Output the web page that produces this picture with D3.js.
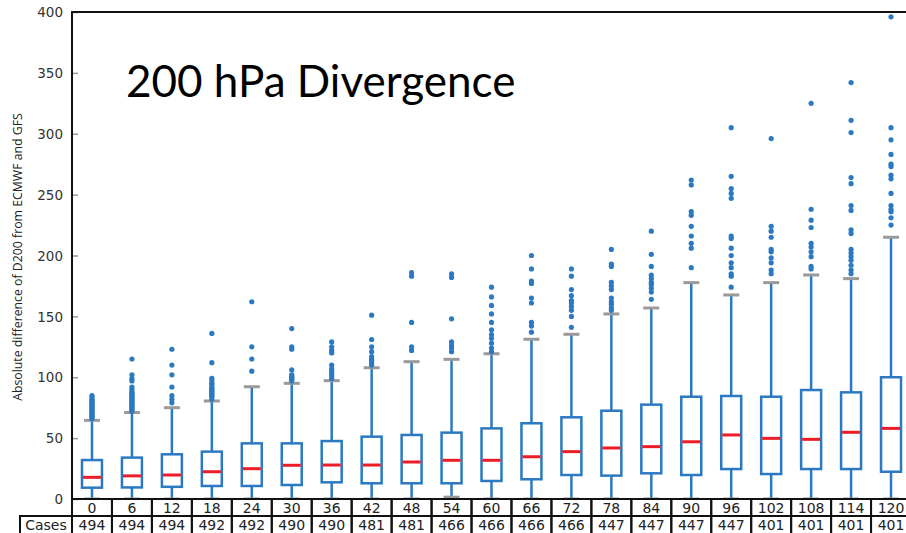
<!DOCTYPE html>
<html>
<head>
<meta charset="utf-8">
<script src="https://cdn.jsdelivr.net/npm/d3@7/dist/d3.min.js"></script>
<style>
  body { margin: 0; background: #fff; }
  svg { display: block; }
  .tick-label { font-family: "DejaVu Sans", sans-serif; font-size: 13.5px; fill: #333; }
  .cell-text { font-family: "DejaVu Sans", sans-serif; font-size: 14px; fill: #222; }
</style>
</head>
<body>
<svg id="chart" width="906" height="533"></svg>
<script>
"use strict";

// forecast lead time (hours) and number of cases
let hours = [0, 6, 12, 18, 24, 30, 36, 42, 48, 54, 60, 66, 72, 78, 84, 90, 96, 102, 108, 114, 120];
let cases = [494, 494, 494, 492, 492, 490, 490, 481, 481, 466, 466, 466, 466, 447, 447, 447, 447, 401, 401, 401, 401];

let q1 = [9.3, 9.5, 10, 10.7, 10.7, 11.5, 13.7, 12.9, 12.9, 12.9, 14.8, 16.2, 19.7, 19.2, 21.1, 19.7, 24.6, 20.5, 24.6, 24.6, 22.4];
let medians = [17.8, 19, 19.7, 22.4, 24.9, 27.7, 27.9, 27.9, 30.4, 31.8, 31.8, 34.7, 38.9, 41.9, 43, 47, 52.6, 49.8, 49, 54.8, 58];
let q3 = [32, 34, 36.7, 38.9, 45.7, 45.7, 47.6, 51.2, 52.6, 54.5, 58, 62.2, 67.1, 72.5, 77.5, 84, 84.6, 84, 89.5, 87.6, 100];
let whiskLow = [0, 0, 0, 0, 0, 0, 0, 0, 0, 1.5, 0, 0, 0, 0, 0, 0, 0, 0, 0, 0, 0];
let whiskHigh = [64.6, 71, 75, 80.5, 92.2, 95, 97.2, 107.8, 112.8, 114.7, 119.3, 131.2, 135.3, 152, 156.9, 177.7, 167.6, 177.7, 184, 181, 215];

let outliers = [
  [66, 67, 68, 69, 70, 71, 72, 73, 74, 75, 76, 77, 78, 79, 80, 81, 82, 84, 85],
  [72, 73, 74, 75, 76, 77, 78, 79, 80, 81, 82, 83, 84, 85, 86, 87, 88, 90, 92, 97, 99, 102, 115],
  [79, 82, 85, 92, 102, 110, 123],
  [82, 84, 85, 86, 87, 88, 89, 90, 91, 92, 94, 95, 97, 99, 112, 136],
  [105, 115, 125, 162],
  [97, 98, 99, 100, 101, 102, 106, 123, 125, 140],
  [99, 101, 103, 105, 107, 110, 120, 122, 125, 129],
  [110, 112, 114, 115, 117, 121, 125, 131, 151],
  [122, 125, 145, 183, 186],
  [121, 124, 126, 129, 148, 182, 185],
  [121, 124, 128, 132, 135, 139, 145, 152, 159, 166, 174],
  [137, 142, 145, 161, 165, 177, 179, 189, 200],
  [141, 150, 155, 158, 161, 163, 167, 172, 183, 189],
  [155, 157, 160, 162, 165, 172, 175, 178, 191, 193, 205],
  [164, 170, 173, 176, 178, 181, 184, 191, 201, 220],
  [190, 206, 210, 216, 224, 233, 236, 258, 262],
  [174, 183, 185, 190, 194, 200, 206, 214, 216, 247, 251, 255, 265, 305],
  [185, 188, 194, 198, 203, 205, 215, 220, 224, 296],
  [189, 191, 199, 203, 207, 210, 223, 229, 238, 325],
  [185, 188, 192, 196, 199, 202, 205, 218, 221, 237, 241, 259, 264, 301, 311, 342],
  [225, 231, 236, 238, 241, 251, 263, 266, 273, 275, 283, 295, 305, 396]
];

let yTicks = [0, 50, 100, 150, 200, 250, 300, 350, 400];

let boxColor = '#2b79c2';
let medianColor = '#ee1c24';
let capColor = '#9a9a9a';

let svg = d3.select('#chart');
let plotLeft = 72, plotTop = 12, plotBottom = 499, plotRight = 911;

let x = d3.scaleBand()
  .domain(hours)
  .range([plotLeft, plotRight])
  .paddingInner(0)
  .paddingOuter(0);
let y = d3.scaleLinear()
  .domain([0, 400])
  .range([plotBottom, plotTop]);

let boxW = x.bandwidth() * 0.5;
let capW = x.bandwidth() * 0.4;
let cx = h => x(h) + x.bandwidth() / 2;

svg.append('defs').append('clipPath')
    .attr('id', 'plotclip')
  .append('rect')
    .attr('x', plotLeft).attr('y', plotTop)
    .attr('width', plotRight - plotLeft).attr('height', plotBottom - plotTop);

// y axis ticks (inside the plot) and labels
let yAxis = d3.axisLeft(y).tickValues(yTicks).tickSize(-6).tickPadding(9);
let yG = svg.append('g')
  .attr('transform', `translate(${plotLeft},0)`)
  .call(yAxis);
yG.select('.domain').remove();
yG.selectAll('.tick line').attr('stroke', '#999').attr('stroke-width', 1.5);
yG.selectAll('.tick text').attr('class', 'tick-label').attr('fill', '#333').attr('dy', '0.35em');

// axis title
svg.append('text')
  .attr('transform', 'translate(22,257) rotate(-90)')
  .attr('text-anchor', 'middle')
  .style('font-family', '"Open Sans", "Noto Sans", sans-serif')
  .style('font-size', '12.3px')
  .style('fill', '#222')
  .text('Absolute difference of D200 from ECMWF and GFS');

let plot = svg.append('g').attr('clip-path', 'url(#plotclip)');

let boxes = plot.selectAll('g.box')
  .data(hours.map((h, i) => ({
    h: h, q1: q1[i], med: medians[i], q3: q3[i],
    lo: whiskLow[i], hi: whiskHigh[i], out: outliers[i]
  })))
  .enter().append('g')
    .attr('class', 'box');

// whiskers
boxes.append('line')
  .attr('x1', d => cx(d.h)).attr('x2', d => cx(d.h))
  .attr('y1', d => y(d.q3)).attr('y2', d => y(d.hi))
  .attr('stroke', boxColor).attr('stroke-width', 2.5);
boxes.append('line')
  .attr('x1', d => cx(d.h)).attr('x2', d => cx(d.h))
  .attr('y1', d => y(d.q1)).attr('y2', d => y(d.lo))
  .attr('stroke', boxColor).attr('stroke-width', 2.5);

// caps
boxes.selectAll('line.cap')
  .data(d => [{h: d.h, v: d.hi}, {h: d.h, v: d.lo}])
  .enter().append('line')
    .attr('class', 'cap')
    .attr('x1', c => cx(c.h) - capW / 2).attr('x2', c => cx(c.h) + capW / 2)
    .attr('y1', c => y(c.v)).attr('y2', c => y(c.v))
    .attr('stroke', capColor).attr('stroke-width', 3);

// box
boxes.append('rect')
  .attr('x', d => cx(d.h) - boxW / 2)
  .attr('y', d => y(d.q3))
  .attr('width', boxW)
  .attr('height', d => y(d.q1) - y(d.q3))
  .attr('fill', 'none')
  .attr('stroke', boxColor).attr('stroke-width', 2.5);

// median
boxes.append('line')
  .attr('x1', d => cx(d.h) - boxW / 2 + 1).attr('x2', d => cx(d.h) + boxW / 2 - 1)
  .attr('y1', d => y(d.med)).attr('y2', d => y(d.med))
  .attr('stroke', medianColor).attr('stroke-width', 3);

// fliers
boxes.selectAll('circle')
  .data(d => d.out.map(v => ({h: d.h, v: v})))
  .enter().append('circle')
    .attr('cx', o => cx(o.h))
    .attr('cy', o => y(o.v))
    .attr('r', 2.6)
    .attr('fill', boxColor);

// spines
svg.append('line')
  .attr('x1', plotLeft).attr('x2', 906).attr('y1', plotTop).attr('y2', plotTop)
  .attr('stroke', '#111').attr('stroke-width', 2);
svg.append('line')
  .attr('x1', plotLeft).attr('x2', plotLeft).attr('y1', plotTop - 1).attr('y2', plotBottom + 1)
  .attr('stroke', '#111').attr('stroke-width', 2);

// title inside plot
svg.append('text')
  .attr('x', 126).attr('y', 97)
  .style('font-family', 'Lato, "Open Sans", sans-serif')
  .style('font-size', '44px')
  .style('fill', '#000')
  .text('200 hPa Divergence');

// table under the axis
let row1Top = plotBottom, row1Bot = 516, row2Bot = 534;
let table = svg.append('g').attr('class', 'table');

table.selectAll('rect.hcell')
  .data(hours)
  .enter().append('rect')
    .attr('class', 'hcell')
    .attr('x', h => x(h)).attr('y', row1Top)
    .attr('width', x.bandwidth()).attr('height', row1Bot - row1Top)
    .attr('fill', 'none').attr('stroke', '#111').attr('stroke-width', 2);
table.selectAll('text.hlab')
  .data(hours)
  .enter().append('text')
    .attr('class', 'cell-text hlab')
    .attr('x', h => cx(h)).attr('y', (row1Top + row1Bot) / 2)
    .attr('dy', '0.36em')
    .attr('text-anchor', 'middle')
    .text(h => h);

table.append('rect')
  .attr('x', 20).attr('y', row1Bot)
  .attr('width', plotLeft - 20).attr('height', row2Bot - row1Bot)
  .attr('fill', 'none').attr('stroke', '#111').attr('stroke-width', 2);
table.append('text')
  .attr('class', 'cell-text')
  .attr('x', (20 + plotLeft) / 2).attr('y', (row1Bot + 533) / 2)
  .attr('dy', '0.36em')
  .attr('text-anchor', 'middle')
  .text('Cases');

table.selectAll('rect.ccell')
  .data(hours)
  .enter().append('rect')
    .attr('class', 'ccell')
    .attr('x', h => x(h)).attr('y', row1Bot)
    .attr('width', x.bandwidth()).attr('height', row2Bot - row1Bot)
    .attr('fill', 'none').attr('stroke', '#111').attr('stroke-width', 2);
table.selectAll('text.clab')
  .data(cases)
  .enter().append('text')
    .attr('class', 'cell-text clab')
    .attr('x', (c, i) => cx(hours[i])).attr('y', (row1Bot + 533) / 2)
    .attr('dy', '0.36em')
    .attr('text-anchor', 'middle')
    .text(c => c);
</script>
</body>
</html>
